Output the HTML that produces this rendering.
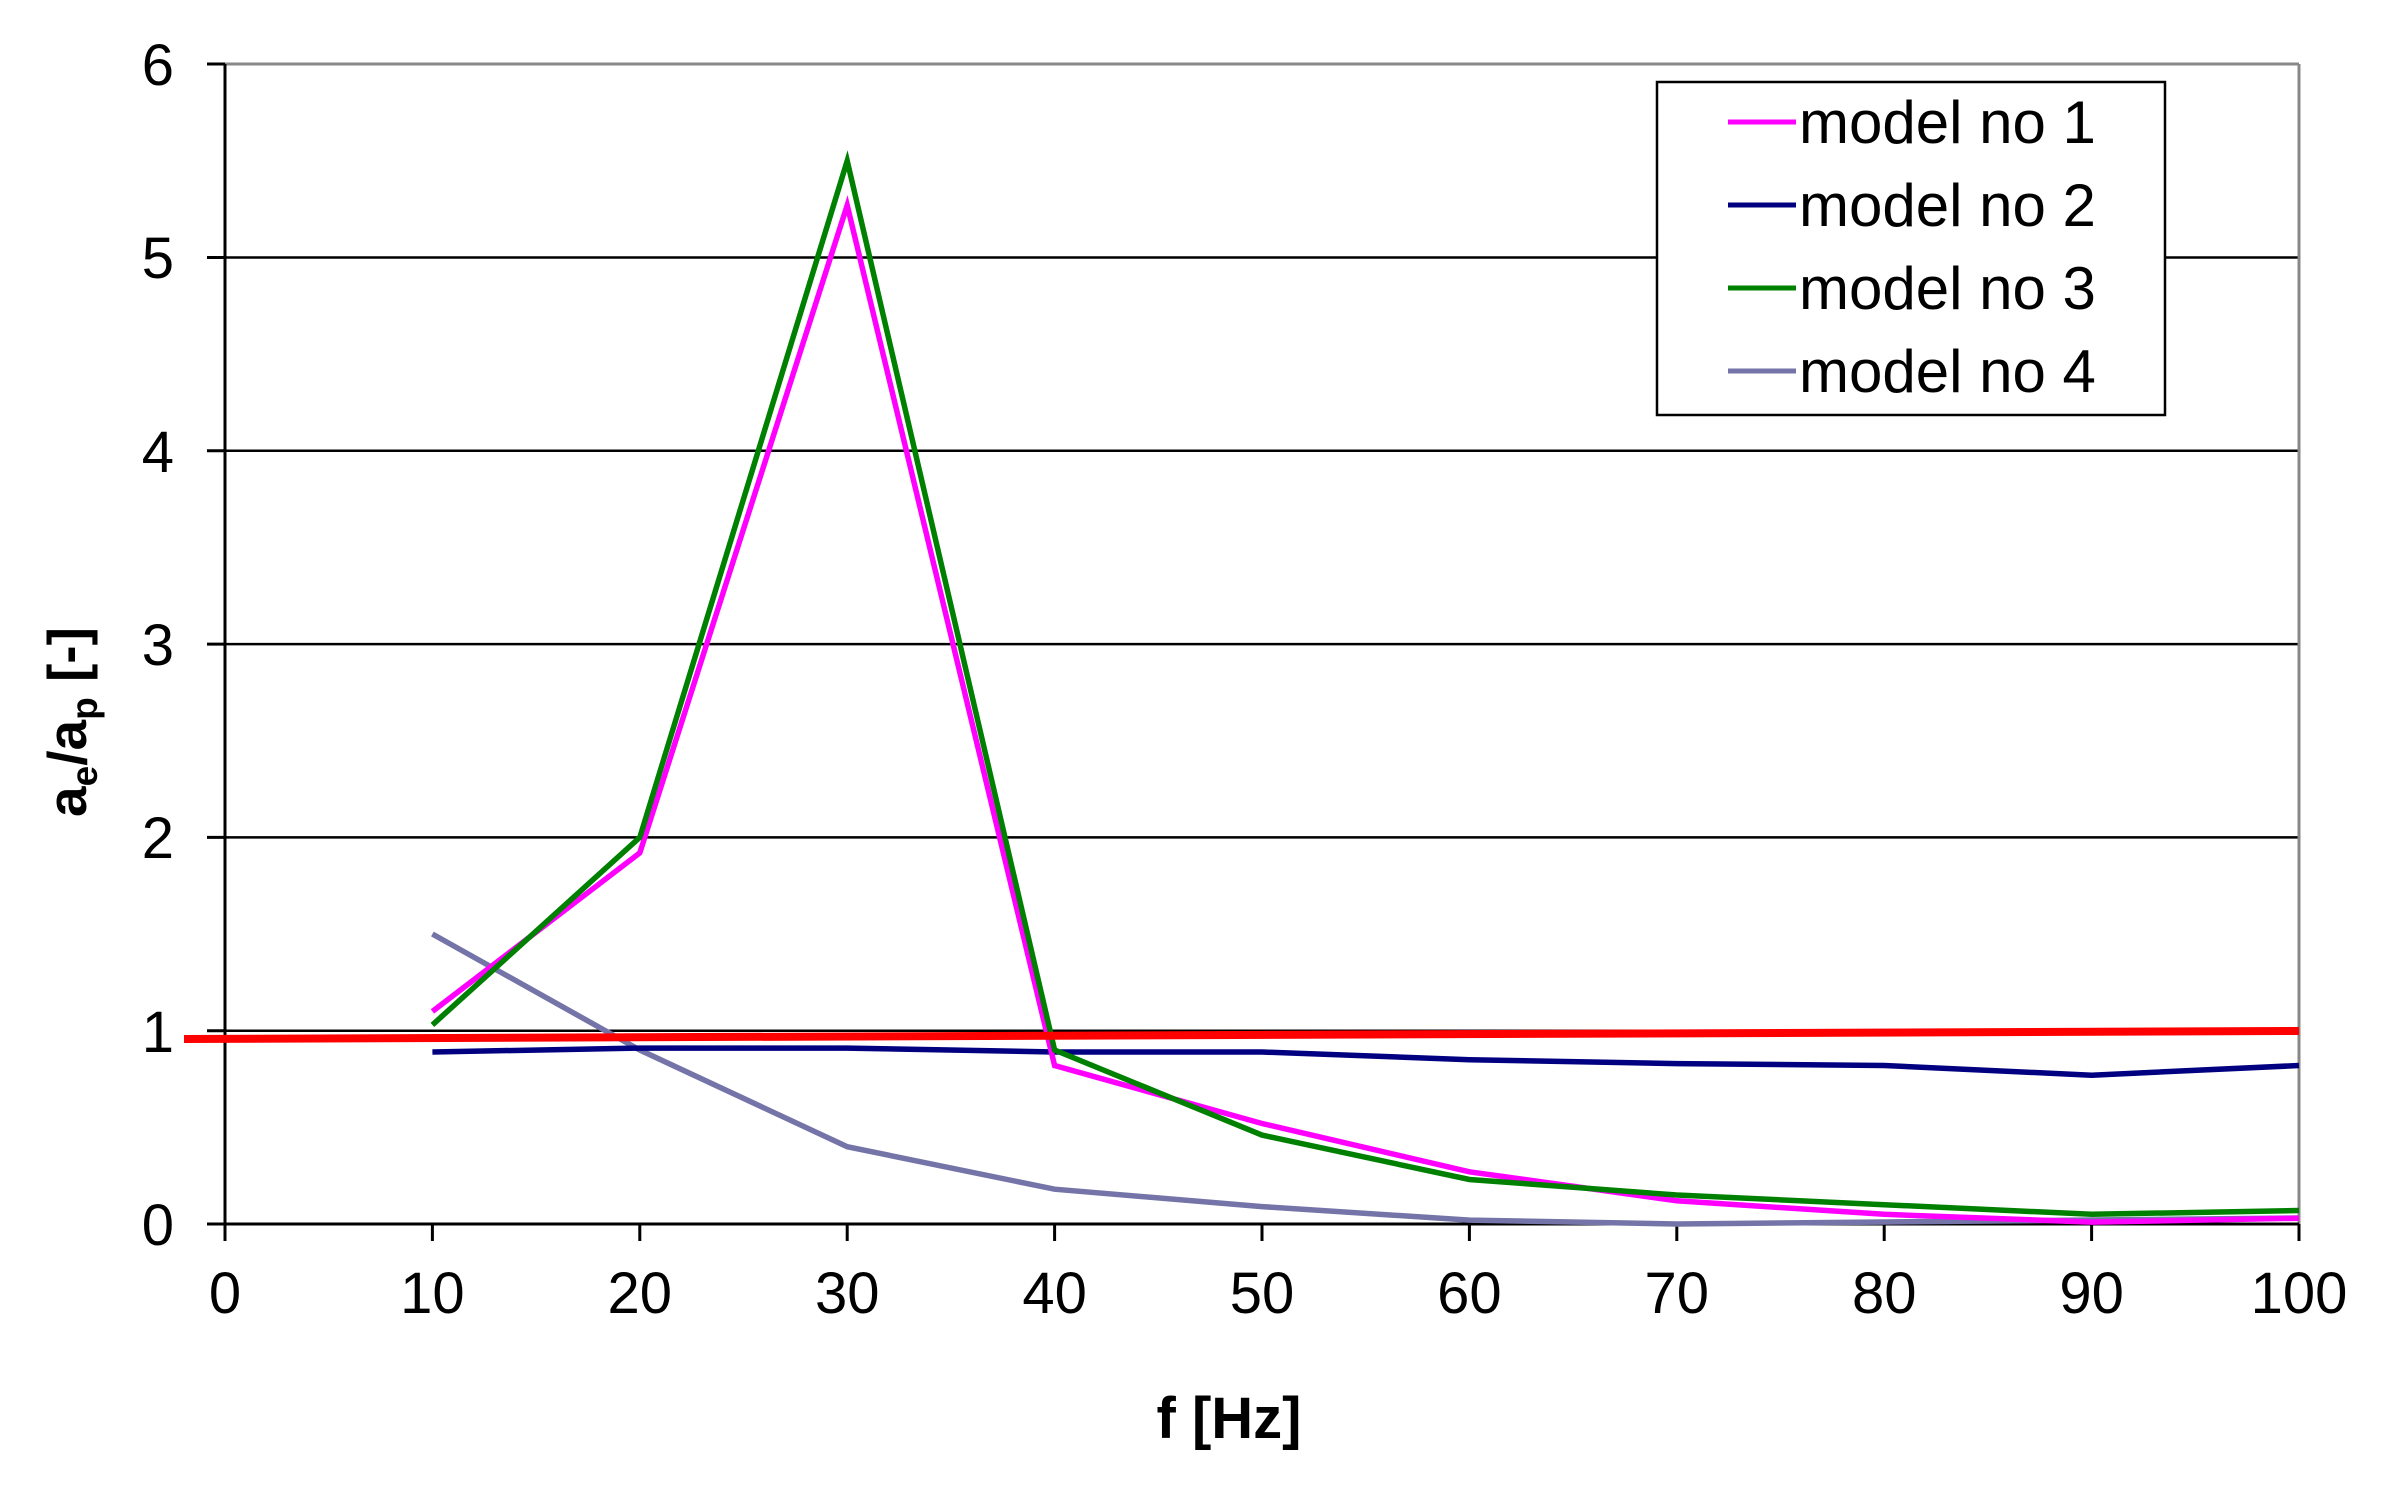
<!DOCTYPE html>
<html><head><meta charset="utf-8"><style>html,body{margin:0;padding:0;background:#fff}svg{display:block}</style></head>
<body>
<svg width="2388" height="1492" viewBox="0 0 2388 1492" xmlns="http://www.w3.org/2000/svg" font-family="Liberation Sans, Arial, sans-serif">
<rect width="2388" height="1492" fill="#fff"/>
<g stroke="#000" stroke-width="2.5">
<line x1="225" y1="257.5" x2="2299" y2="257.5"/>
<line x1="225" y1="450.8" x2="2299" y2="450.8"/>
<line x1="225" y1="644.1" x2="2299" y2="644.1"/>
<line x1="225" y1="837.4" x2="2299" y2="837.4"/>
<line x1="225" y1="1030.7" x2="2299" y2="1030.7"/>
</g>
<line x1="225" y1="64" x2="2299" y2="64" stroke="#888" stroke-width="3"/>
<line x1="2299" y1="64" x2="2299" y2="1224" stroke="#888" stroke-width="3"/>
<g stroke="#000" stroke-width="3">
<line x1="225" y1="64" x2="225" y2="1224"/>
<line x1="207" y1="1224" x2="2299" y2="1224"/>
<line x1="207" y1="64" x2="225" y2="64"/>
<line x1="207" y1="257.5" x2="225" y2="257.5"/>
<line x1="207" y1="450.8" x2="225" y2="450.8"/>
<line x1="207" y1="644.1" x2="225" y2="644.1"/>
<line x1="207" y1="837.4" x2="225" y2="837.4"/>
<line x1="207" y1="1030.7" x2="225" y2="1030.7"/>
<line x1="225" y1="1224" x2="225" y2="1241"/>
<line x1="432.4" y1="1224" x2="432.4" y2="1241"/>
<line x1="639.8" y1="1224" x2="639.8" y2="1241"/>
<line x1="847.2" y1="1224" x2="847.2" y2="1241"/>
<line x1="1054.6" y1="1224" x2="1054.6" y2="1241"/>
<line x1="1262" y1="1224" x2="1262" y2="1241"/>
<line x1="1469.4" y1="1224" x2="1469.4" y2="1241"/>
<line x1="1676.8" y1="1224" x2="1676.8" y2="1241"/>
<line x1="1884.2" y1="1224" x2="1884.2" y2="1241"/>
<line x1="2091.6" y1="1224" x2="2091.6" y2="1241"/>
<line x1="2299" y1="1224" x2="2299" y2="1241"/>
</g>
<g font-size="58" fill="#000" text-anchor="end">
<text x="174" y="85">6</text>
<text x="174" y="278">5</text>
<text x="174" y="472">4</text>
<text x="174" y="665">3</text>
<text x="174" y="858">2</text>
<text x="174" y="1052">1</text>
<text x="174" y="1245">0</text>
</g>
<g font-size="58" fill="#000" text-anchor="middle">
<text x="225" y="1313">0</text>
<text x="432.4" y="1313">10</text>
<text x="639.8" y="1313">20</text>
<text x="847.2" y="1313">30</text>
<text x="1054.6" y="1313">40</text>
<text x="1262" y="1313">50</text>
<text x="1469.4" y="1313">60</text>
<text x="1676.8" y="1313">70</text>
<text x="1884.2" y="1313">80</text>
<text x="2091.6" y="1313">90</text>
<text x="2299" y="1313">100</text>
</g>
<text x="1229" y="1438" font-size="58" font-weight="bold" text-anchor="middle">f [Hz]</text>
<text transform="translate(86,722) rotate(-90)" font-size="55" font-weight="bold" text-anchor="middle">a<tspan font-size="37" dy="11">e</tspan><tspan dy="-11">/a</tspan><tspan font-size="37" dy="11">p</tspan><tspan dy="-11"> [-]</tspan></text>
<g fill="none" stroke-linejoin="miter" stroke-width="5.5">
<polyline stroke="#7474a8" points="432.4,934 639.8,1050 847.2,1146.7 1054.6,1189.2 1262,1206.6 1469.4,1220.1 1676.8,1224 1884.2,1222 2091.6,1220 2299,1218"/>
<polyline stroke="#000080" points="432.4,1052 639.8,1048.1 847.2,1048.1 1054.6,1052 1262,1052 1469.4,1059.7 1676.8,1063.6 1884.2,1065.5 2091.6,1075.2 2299,1065.5"/>
<polyline stroke="#ff00ff" points="432.4,1011.4 639.8,852.9 847.2,205.3 1054.6,1065.5 1262,1123.5 1469.4,1171.8 1676.8,1200.8 1884.2,1214.3 2091.6,1222.1 2299,1218.2"/>
<polyline stroke="#008000" points="432.4,1024.9 639.8,837.4 847.2,160.8 1054.6,1050 1262,1135.1 1469.4,1179.5 1676.8,1195 1884.2,1204.7 2091.6,1214.3 2299,1210.5"/>
</g>
<line x1="184" y1="1039" x2="2299" y2="1031" stroke="#ff0000" stroke-width="8"/>
<rect x="1657" y="82" width="508" height="333" fill="#fff" stroke="#000" stroke-width="2.5"/>
<g stroke-width="5">
<line x1="1728" y1="122" x2="1796" y2="122" stroke="#ff00ff"/>
<line x1="1728" y1="205" x2="1796" y2="205" stroke="#000080"/>
<line x1="1728" y1="288" x2="1796" y2="288" stroke="#008000"/>
<line x1="1728" y1="371" x2="1796" y2="371" stroke="#7474a8"/>
</g>
<g font-size="60" fill="#000">
<text x="1799" y="143">model no 1</text>
<text x="1799" y="226">model no 2</text>
<text x="1799" y="309">model no 3</text>
<text x="1799" y="392">model no 4</text>
</g>
</svg>
</body></html>
